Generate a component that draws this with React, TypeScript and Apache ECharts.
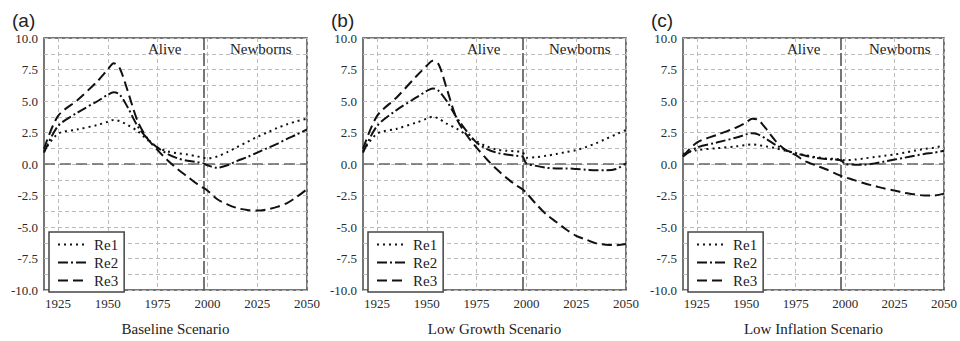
import React, { useEffect, useRef } from "react";
import * as echarts from "echarts";

const years = [1918, 1925, 1935, 1945, 1950, 1953, 1956, 1960, 1965, 1970, 1975, 1980, 1985, 1990, 1995, 1998, 2000, 2005, 2010, 2015, 2020, 2025, 2030, 2035, 2040, 2045, 2050];

const aRe1 = [1.0, 2.4, 2.75, 3.1, 3.35, 3.5, 3.4, 3.1, 2.6, 1.9, 1.3, 1.0, 0.85, 0.75, 0.6, 0.5, 0.45, 0.6, 0.95, 1.35, 1.75, 2.15, 2.5, 2.85, 3.15, 3.4, 3.6];
const aRe2 = [0.9, 3.0, 4.1, 5.0, 5.5, 5.7, 5.5, 4.5, 3.0, 2.0, 1.3, 0.8, 0.45, 0.25, 0.15, 0.05, -0.1, -0.3, -0.1, 0.25, 0.55, 0.9, 1.25, 1.6, 2.0, 2.35, 2.75];
const aRe3 = [1.2, 3.8, 5.1, 6.6, 7.5, 8.0, 7.6, 5.8, 3.4, 2.0, 1.1, 0.3, -0.4, -1.0, -1.6, -1.9, -2.1, -2.8, -3.2, -3.5, -3.65, -3.7, -3.6, -3.4, -3.1, -2.6, -2.0];

const bRe1 = [1.0, 2.4, 2.8, 3.3, 3.6, 3.75, 3.6, 3.2, 2.8, 2.3, 1.8, 1.4, 1.15, 1.05, 1.0, 0.95, 0.5, 0.55, 0.65, 0.8, 0.95, 1.1, 1.35, 1.65, 2.0, 2.35, 2.7];
const bRe2 = [0.9, 3.0, 4.3, 5.3, 5.8, 6.0, 5.8, 5.0, 3.7, 2.6, 1.7, 1.2, 0.9, 0.75, 0.65, 0.6, 0.05, -0.15, -0.3, -0.35, -0.35, -0.4, -0.45, -0.5, -0.5, -0.4, 0.05];
const bRe3 = [1.2, 3.8, 5.3, 7.0, 7.8, 8.2, 7.9, 6.0, 3.6, 2.3, 1.3, 0.4, -0.4, -1.1, -1.7, -2.0, -2.3, -3.2, -4.0, -4.6, -5.2, -5.7, -6.0, -6.3, -6.4, -6.45, -6.35];

const cRe1 = [0.8, 1.1, 1.25, 1.4, 1.5, 1.55, 1.5, 1.4, 1.25, 1.05, 0.85, 0.7, 0.55, 0.45, 0.4, 0.35, 0.3, 0.35, 0.45, 0.55, 0.65, 0.75, 0.9, 1.05, 1.2, 1.3, 1.45];
const cRe2 = [0.6, 1.3, 1.7, 2.1, 2.35, 2.45, 2.35, 2.0, 1.5, 1.1, 0.85, 0.65, 0.5, 0.4, 0.35, 0.3, 0.0, -0.05, -0.05, 0.05, 0.2, 0.35, 0.5, 0.65, 0.8, 0.9, 1.05];
const cRe3 = [0.6, 1.7, 2.3, 2.9, 3.3, 3.6, 3.5, 2.8, 1.8, 1.1, 0.7, 0.2, -0.1, -0.4, -0.75, -0.95, -1.05, -1.3, -1.55, -1.75, -1.95, -2.1, -2.3, -2.4, -2.5, -2.5, -2.35];

const panelTitles = ["(a)", "(b)", "(c)"];
const scenarioNames = ["Baseline Scenario", "Low Growth Scenario", "Low Inflation Scenario"];
const seriesNames = ["Re1", "Re2", "Re3"];
const xTickValues = [1925, 1950, 1975, 2000, 2025, 2050];
const dividerYear = 1998;
const panelData = [
  [aRe1, aRe2, aRe3],
  [bRe1, bRe2, bRe3],
  [cRe1, cRe2, cRe3],
];

const SERIF = "Liberation Serif";
const gridLefts = [44, 363, 683];
const gridWidth = 263;

const lineTypes: any[] = [
  [2, 4],
  [10, 3, 2, 3],
  [10, 5],
];

export default function App() {
  const ref = useRef<HTMLDivElement>(null);
  useEffect(() => {
    if (!ref.current) return;
    const chart = echarts.init(ref.current, undefined, { renderer: "svg" });

    const grids: any[] = [];
    const xAxes: any[] = [];
    const yAxes: any[] = [];
    const series: any[] = [];
    const titles: any[] = [];
    const legends: any[] = [];
    const graphics: any[] = [];

    for (let p = 0; p < 3; p++) {
      const left = gridLefts[p];
      grids.push({
        left,
        top: 38,
        width: gridWidth,
        height: 262,
        show: true,
        borderColor: "#4a4a4a",
        borderWidth: 1.5,
        backgroundColor: "#fff",
      });
      xAxes.push({
        type: "value",
        gridIndex: p,
        min: 1918,
        max: 2050,
        name: scenarioNames[p],
        nameLocation: "middle",
        nameGap: 31,
        nameTextStyle: { fontFamily: SERIF, fontSize: 15, color: "#222" },
        axisLine: { show: false },
        axisTick: { show: false, customValues: xTickValues },
        axisLabel: {
          customValues: xTickValues,
          fontFamily: SERIF,
          fontSize: 13,
          color: "#2a2a2a",
          margin: 7,
          formatter: (v: number) => String(v),
        },
        splitLine: {
          show: true,
          lineStyle: { color: "#bbb", type: [4, 3], width: 1 },
        },
      });
      yAxes.push({
        type: "value",
        gridIndex: p,
        min: -10,
        max: 10,
        interval: 1.25,
        axisLine: { show: false },
        axisTick: { show: false },
        axisLabel: {
          fontFamily: SERIF,
          fontSize: 13,
          color: "#2a2a2a",
          margin: 6,
          formatter: (v: number) => (Math.abs(v / 2.5 - Math.round(v / 2.5)) < 1e-6 ? v.toFixed(1) : ""),
        },
        splitLine: {
          show: true,
          lineStyle: { color: "#bbb", type: [4, 3], width: 1 },
        },
      });
      for (let s = 0; s < 3; s++) {
        const vals = panelData[p][s];
        const ser: any = {
          type: "line",
          name: seriesNames[s],
          xAxisIndex: p,
          yAxisIndex: p,
          data: years.map((y, i) => [y, vals[i]]),
          smooth: 0.3,
          symbol: "none",
          lineStyle: { color: "#111", width: 2, type: lineTypes[s] },
          itemStyle: { color: "#111" },
          z: 3,
        };
        if (s === 0) {
          ser.markLine = {
            silent: true,
            symbol: "none",
            label: { show: false },
            data: [
              { yAxis: 0, lineStyle: { color: "#666", width: 1.6, type: [11, 5] } },
              { xAxis: dividerYear, lineStyle: { color: "#555", width: 1.6, type: [13, 3] } },
            ],
            z: 2,
          };
        }
        series.push(ser);
      }
      titles.push({
        text: panelTitles[p],
        left: left - 37,
        top: 6,
        textStyle: { fontFamily: "Liberation Sans", fontSize: 19, fontWeight: "normal", color: "#222" },
      });
      legends.push({
        data: seriesNames,
        orient: "vertical",
        left: left + 5,
        top: 232,
        backgroundColor: "#fff",
        borderColor: "#444",
        borderWidth: 1.5,
        borderRadius: 0,
        padding: [5, 6, 4, 8],
        itemWidth: 30,
        itemHeight: 14,
        itemGap: 3,
        selectedMode: false,
        itemStyle: { opacity: 0 },
        textStyle: { fontFamily: SERIF, fontSize: 15, color: "#222", padding: [0, 0, 0, 1] },
      });
      graphics.push({
        type: "text",
        left: left + 104,
        top: 41,
        style: { text: "Alive", fontFamily: SERIF, fontSize: 15, fill: "#222" },
        z: 10,
      });
      graphics.push({
        type: "text",
        left: left + 186,
        top: 41,
        style: { text: "Newborns", fontFamily: SERIF, fontSize: 15, fill: "#222" },
        z: 10,
      });
    }

    chart.setOption({
      animation: false,
      backgroundColor: "#fff",
      title: titles,
      grid: grids,
      xAxis: xAxes,
      yAxis: yAxes,
      legend: legends,
      series,
      graphic: graphics,
    });
    return () => chart.dispose();
  }, []);
  return <div ref={ref} style={{ position: "absolute", left: 0, top: 0, width: 960, height: 341 }} />;
}
